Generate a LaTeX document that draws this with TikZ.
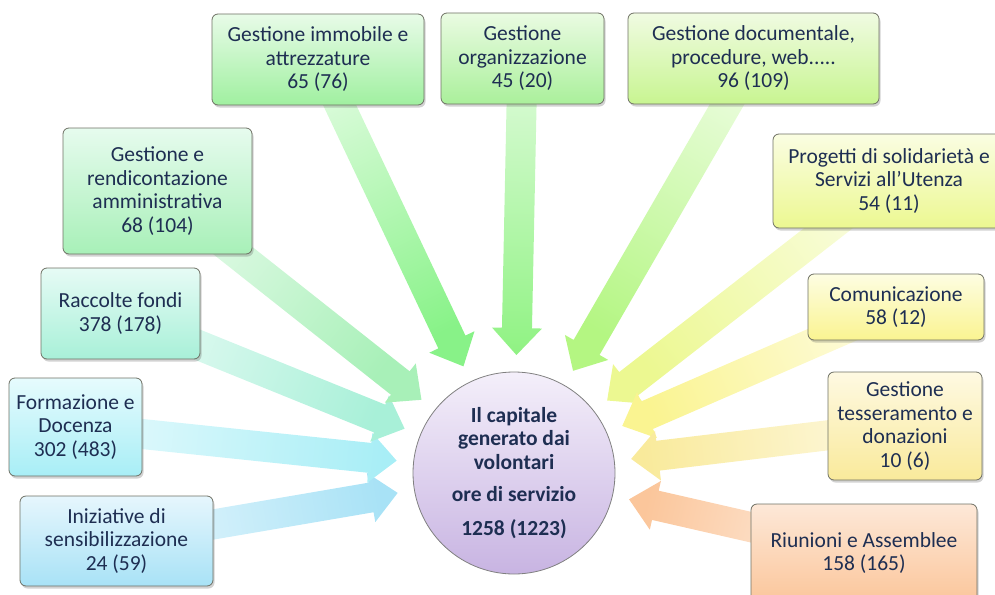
\documentclass[tikz,border=0pt]{standalone}
\usepackage{fontspec}
\setmainfont{Carlito}
\definecolor{inkNavy}{RGB}{30, 46, 82}
\definecolor{frameGrey}{RGB}{110, 112, 100}
\definecolor{immTop}{RGB}{232, 251, 232}
\definecolor{immBot}{RGB}{160, 240, 160}
\definecolor{orgTop}{RGB}{234, 251, 226}
\definecolor{orgBot}{RGB}{170, 240, 155}
\definecolor{docTop}{RGB}{240, 251, 226}
\definecolor{docBot}{RGB}{200, 245, 145}
\definecolor{proTop}{RGB}{250, 253, 226}
\definecolor{proBot}{RGB}{236, 248, 145}
\definecolor{comTop}{RGB}{253, 253, 226}
\definecolor{comBot}{RGB}{250, 244, 145}
\definecolor{tesTop}{RGB}{254, 249, 226}
\definecolor{tesBot}{RGB}{249, 234, 155}
\definecolor{riuTop}{RGB}{253, 232, 216}
\definecolor{riuBot}{RGB}{251, 198, 155}
\definecolor{iniTop}{RGB}{230, 246, 253}
\definecolor{iniBot}{RGB}{168, 226, 246}
\definecolor{forTop}{RGB}{230, 251, 253}
\definecolor{forBot}{RGB}{168, 238, 246}
\definecolor{racTop}{RGB}{230, 251, 245}
\definecolor{racBot}{RGB}{168, 240, 216}
\definecolor{renTop}{RGB}{230, 251, 238}
\definecolor{renBot}{RGB}{168, 240, 184}
\definecolor{hubTop}{RGB}{244, 239, 250}
\definecolor{hubBot}{RGB}{200, 180, 226}
\usepackage{tikz}
\usetikzlibrary{calc,shadows,backgrounds}

% wide shaded arrow from a box towards the hub
\newcommand{\bigarrow}[3]{%
  \path let \p1=($(#2)-(#1)$) in
    \pgfextra{\pgfmathsetmacro{\arrang}{atan2(\y1,\x1)}%
              \pgfmathsetmacro{\arrlen}{veclen(\x1,\y1)}%
              \pgfmathsetmacro{\arrshade}{\arrang+90}%
              \xdef\arrang{\arrang}\xdef\arrlen{\arrlen}\xdef\arrshade{\arrshade}};
  \begin{scope}[shift={(#1)},rotate=\arrang,x=1pt,y=1pt]
    \shade[top color=#3!30!white,bottom color=#3,shading angle=\arrshade]
      (0,-15) -- (\arrlen-27,-15) -- (\arrlen-27,-25) -- (\arrlen,0)
      -- (\arrlen-27,25) -- (\arrlen-27,15) -- (0,15) -- cycle;
  \end{scope}}

\tikzset{
  topic/.style={rounded corners=6pt,draw=frameGrey,line width=0.8pt,
                text=inkNavy,align=center,inner sep=0pt,
                font=\fontsize{21.5}{23.5}\selectfont,
                drop shadow={shadow xshift=1.5pt,shadow yshift=-2.5pt,opacity=.25,fill=black!70}},
  hub/.style={circle,draw=black!50,line width=0.8pt,minimum size=202pt,
              top color=hubTop,bottom color=hubBot,text=inkNavy,align=center,
              font=\bfseries\fontsize{21.5}{23.5}\selectfont},
}

\begin{document}
\begin{tikzpicture}[x=1pt,y=-1pt]
\useasboundingbox (0,0) rectangle (995,594);

\node[hub] (hub) at (514,473) {Il capitale\\generato dai\\volontari\\[9pt]ore di servizio\\[10pt]1258 (1223)};

% the topics round the hub
\node[topic,minimum width=212pt,minimum height=91pt,top color=immTop,bottom color=immBot]
  (imm) at (318,59.5) {Gestione immobile e\\attrezzature\\65 (76)};
\node[topic,minimum width=163pt,minimum height=91pt,top color=orgTop,bottom color=orgBot]
  (org) at (522.5,58.5) {Gestione\\organizzazione\\45 (20)};
\node[topic,minimum width=251pt,minimum height=91pt,top color=docTop,bottom color=docBot]
  (doc) at (753.5,58.5) {Gestione documentale,\\procedure, web.....\\96 (109)};
\node[topic,minimum width=232pt,minimum height=94pt,top color=proTop,bottom color=proBot]
  (pro) at (889,181) {Progetti di solidarietà e\\Servizi all'Utenza\\54 (11)};
\node[topic,minimum width=176pt,minimum height=66pt,top color=comTop,bottom color=comBot]
  (com) at (896,307) {Comunicazione\\58 (12)};
\node[topic,minimum width=154pt,minimum height=108pt,top color=tesTop,bottom color=tesBot]
  (tes) at (905,426) {Gestione\\tesseramento e\\donazioni\\10 (6)};
\node[topic,minimum width=226pt,minimum height=98pt,top color=riuTop,bottom color=riuBot]
  (riu) at (864,553) {Riunioni e Assemblee\\158 (165)};
\node[topic,minimum width=193pt,minimum height=90pt,top color=iniTop,bottom color=iniBot]
  (ini) at (116.5,541) {Iniziative di\\sensibilizzazione\\24 (59)};
\node[topic,minimum width=133pt,minimum height=98pt,top color=forTop,bottom color=forBot]
  (for) at (75.5,427) {Formazione e\\Docenza\\302 (483)};
\node[topic,minimum width=159pt,minimum height=91pt,top color=racTop,bottom color=racBot]
  (rac) at (120.5,313.5) {Raccolte fondi\\378 (178)};
\node[topic,minimum width=189pt,minimum height=126pt,top color=renTop,bottom color=renBot]
  (ren) at (157.5,191) {Gestione e\\rendicontazione\\amministrativa\\68 (104)};

% arrow tips sit on a ring round the hub
\foreach \t in {imm,org,doc,pro,com,tes,riu,ini,for,rac,ren}
  \coordinate (\t-tip) at ($(hub)!118pt!(\t)$);

\begin{scope}[on background layer]
\bigarrow{imm}{imm-tip}{immBot!85!green}
\bigarrow{org}{org-tip}{orgBot!85!green}
\bigarrow{doc}{doc-tip}{docBot!90!green}
\bigarrow{pro}{pro-tip}{proBot}
\bigarrow{com}{com-tip}{comBot}
\bigarrow{tes}{tes-tip}{tesBot}
\bigarrow{riu}{riu-tip}{riuBot}
\bigarrow{ini}{ini-tip}{iniBot}
\bigarrow{for}{for-tip}{forBot}
\bigarrow{rac}{rac-tip}{racBot}
\bigarrow{ren}{ren-tip}{renBot}
\end{scope}
\end{tikzpicture}
\end{document}
